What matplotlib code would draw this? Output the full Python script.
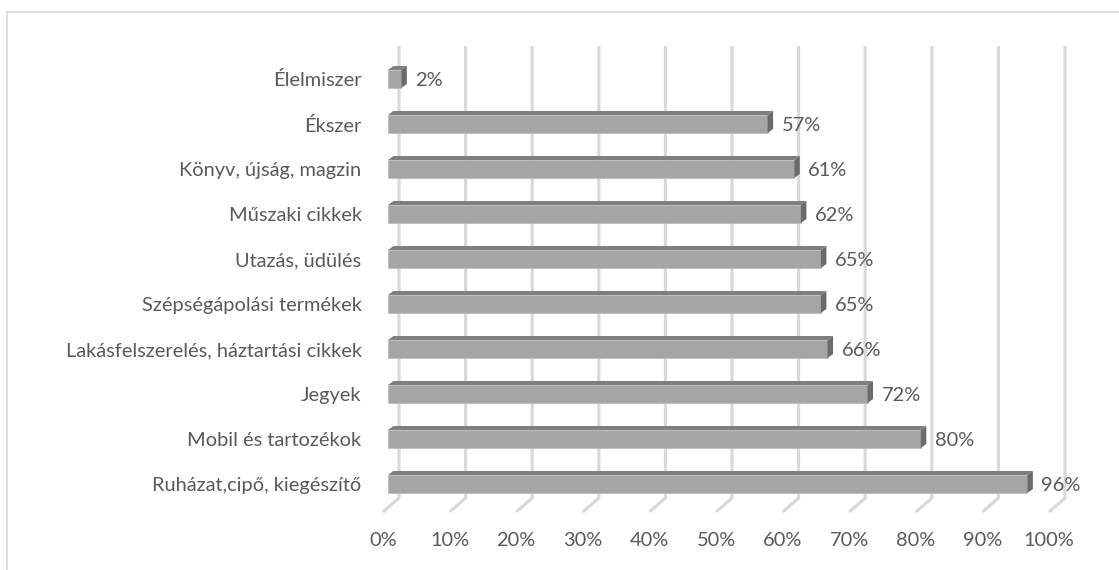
import matplotlib
matplotlib.use("Agg")
import matplotlib.pyplot as plt
from matplotlib.patches import Polygon
from matplotlib.lines import Line2D

# Share of respondents buying each product group online
categories = ["Ruházat,cipő, kiegészítő", "Mobil és tartozékok", "Jegyek",
              "Lakásfelszerelés, háztartási cikkek", "Szépségápolási termékek",
              "Utazás, üdülés", "Műszaki cikkek", "Könyv, újság, magzin",
              "Ékszer", "Élelmiszer"]
values = [96, 80, 72, 66, 65, 65, 62, 61, 57, 2]
tick_values = [0, 10, 20, 30, 40, 50, 60, 70, 80, 90, 100]
tick_labels = [f"{t}%" for t in tick_values]

plt.rcParams["font.family"] = ["Lato", "DejaVu Sans"]
TEXT = "#595959"
FRONT = "#a5a5a5"
TOP = "#7f7f7f"
SIDE = "#6b6b6b"
GRID = "#d9d9d9"

W, H = 1119, 570
fig = plt.figure(figsize=(W / 100, H / 100), dpi=100)

# plot area in pixels (front plane of the bars)
x0, x1 = 388, 1054
ytop, ybot = 56.5, 506.5
ax = fig.add_axes([x0 / W, 1 - ybot / H, (x1 - x0) / W, (ybot - ytop) / H])
ax.set_xlim(0, 100)
ax.set_ylim(-0.5, 9.5)
ax.axis("off")

ux = (x1 - x0) / 100.0      # pixels per percent
uy = (ybot - ytop) / 10.0   # pixels per category step


def px_to_y(p):
    return 9.5 - (p - ytop) / uy


# back wall / floor geometry of the 3-D frame
wall_dx = 11.0 / ux
floor_dx = -5.0 / ux
wall_top = px_to_y(46)
floor_back = px_to_y(498)
floor_front = px_to_y(512)

for t, lab in zip(tick_values, tick_labels):
    ax.plot([t + wall_dx, t + wall_dx, t + floor_dx],
            [wall_top, floor_back, floor_front],
            color=GRID, lw=2.3, solid_capstyle="butt", zorder=1, clip_on=False)
    ax.text(t + floor_dx, px_to_y(540), lab, ha="center", va="center",
            fontsize=14.4, color=TEXT)

# bars: front face from barh, top and end faces as parallelograms
ypos = list(range(len(categories)))
h = 18.0 / uy
ddx = 5.5 / ux
ddy = 4.0 / uy
ax.barh(ypos, values, height=h, color=FRONT, edgecolor="#bdbdbd",
        linewidth=0.6, zorder=3)
for y, v, name in zip(ypos, values, categories):
    top = y + h / 2
    bot = y - h / 2
    ax.add_patch(Polygon([(0, top), (v, top), (v + ddx, top + ddy),
                          (ddx, top + ddy)], closed=True, facecolor=TOP,
                         edgecolor="none", zorder=3))
    ax.add_patch(Polygon([(v, bot), (v, top), (v + ddx, top + ddy),
                          (v + ddx, bot + ddy)], closed=True, facecolor=SIDE,
                         edgecolor="none", zorder=3))
    ax.annotate(f"{v}%", (v, y), xytext=(10, 0), textcoords="offset points",
                ha="left", va="center_baseline", fontsize=14.4, color=TEXT)
    ax.annotate(name, (0, y), xytext=(-19, 0), textcoords="offset points",
                ha="right", va="center_baseline", fontsize=14.4, color=TEXT)

# chart border
fig.add_artist(Line2D([6.5 / W, 6.5 / W], [0, 1 - 11.5 / H],
                      transform=fig.transFigure, color=GRID, lw=1.2))
fig.add_artist(Line2D([6.5 / W, 1], [1 - 11.5 / H, 1 - 11.5 / H],
                      transform=fig.transFigure, color=GRID, lw=1.2))

fig.savefig("out.png", dpi=100, facecolor="white")
